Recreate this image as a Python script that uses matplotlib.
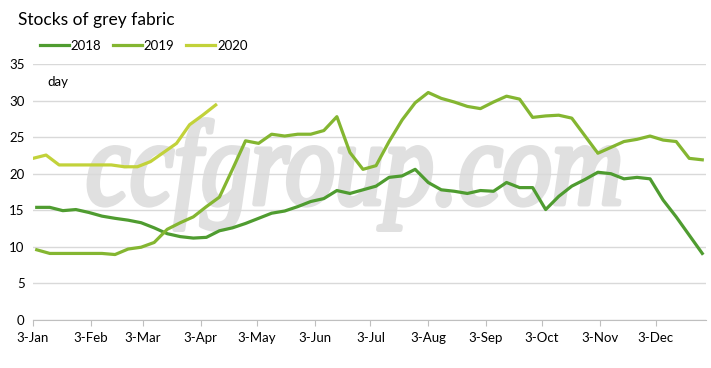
import pandas as pd
import numpy as np
import matplotlib.pyplot as plt
from matplotlib.textpath import TextPath
from matplotlib.patches import PathPatch
from matplotlib.font_manager import FontProperties
from matplotlib.transforms import Affine2D

# weekly stocks of grey fabric, days
dates = pd.date_range('2018-01-05', periods=52, freq='7D')
dates_2020 = pd.date_range('2018-01-03', periods=15, freq='7D')

s2018 = [15.4, 15.4, 14.95, 15.1, 14.7, 14.2, 13.9, 13.65, 13.3, 12.6,
         11.8, 11.4, 11.2, 11.3, 12.2, 12.6, 13.2, 13.9, 14.6, 14.9,
         15.5, 16.2, 16.6, 17.7, 17.3, 17.8, 18.3, 19.5, 19.7, 20.6,
         18.8, 17.8, 17.6, 17.3, 17.7, 17.6, 18.8, 18.1, 18.1, 15.1,
         16.9, 18.3, 19.2, 20.2, 20.0, 19.3, 19.5, 19.3, 16.4, 14.1,
         11.6, 9.1]
s2019 = [9.6, 9.1, 9.1, 9.1, 9.1, 9.1, 8.95, 9.7, 9.95, 10.6,
         12.4, 13.3, 14.1, 15.5, 16.8, 20.6, 24.5, 24.15, 25.4, 25.15,
         25.4, 25.4, 25.9, 27.8, 22.9, 20.6, 21.1, 24.4, 27.35, 29.7,
         31.1, 30.3, 29.8, 29.2, 28.9, 29.8, 30.6, 30.2, 27.7, 27.9,
         28.0, 27.6, 25.2, 22.8, 23.6, 24.4, 24.7, 25.15, 24.6, 24.4,
         22.1, 21.9]
s2020 = [22.1, 22.55, 21.2, 21.2, 21.2, 21.2, 21.2, 20.95, 20.95, 21.65,
         22.9, 24.15, 26.7, 28.0, 29.4]

tick_dates = pd.date_range('2018-01-01', periods=12, freq='MS') + pd.Timedelta(days=2)
tick_labels = ['3-Jan', '3-Feb', '3-Mar', '3-Apr', '3-May', '3-Jun',
               '3-Jul', '3-Aug', '3-Sep', '3-Oct', '3-Nov', '3-Dec']

plt.rcParams['font.family'] = ['Lato', 'DejaVu Sans']

fig = plt.figure(figsize=(7.11, 3.68), dpi=100)
ax = fig.add_axes([33/711, 48/368, 673/711, 256/368])
ax.patch.set_alpha(0)

# watermark, fitted to its box in pixels
tp = TextPath((0, 0), 'ccfgroup.com', size=1,
              prop=FontProperties(family='Liberation Serif', style='italic'))
bb = tp.get_extents()
sx = 530 / bb.width
sy = 120
wm = PathPatch(tp, facecolor='#e0e0e0', edgecolor='#e0e0e0', lw=3.5, zorder=0,
               joinstyle='round',
               transform=Affine2D().scale(sx, sy).translate(89 - bb.x0 * sx, 368 - 204))
fig.add_artist(wm)

ax.plot(dates, s2018, color='#4f9c30', lw=2.3, label='2018', solid_joinstyle='round')
ax.plot(dates, s2019, color='#84b631', lw=2.3, label='2019', solid_joinstyle='round')
ax.plot(dates_2020, s2020, color='#c2d23a', lw=2.3, label='2020', solid_joinstyle='round')

ax.set_ylim(0, 35)
ax.set_yticks(range(0, 36, 5))
ax.set_xlim(pd.Timestamp('2018-01-03'), pd.Timestamp('2018-12-30'))
ax.set_xticks(tick_dates)
ax.set_xticklabels(tick_labels)
ax.grid(axis='y', color='#d9d9d9', lw=1)
ax.set_axisbelow(True)
for s in ['top', 'right', 'left']:
    ax.spines[s].set_visible(False)
ax.spines['bottom'].set_color('#bfbfbf')
ax.tick_params(axis='y', length=0, pad=6, labelsize=9.5, colors='#000000')
ax.tick_params(axis='x', length=4, color='#bfbfbf', pad=5, labelsize=9.5)

ax.text(0.021, 0.915, 'day', transform=ax.transAxes, fontsize=9.5)

fig.text(18/711, 1 - 20/368, 'Stocks of grey fabric', fontsize=12.5, va='center')
leg = fig.legend(loc='center left', bbox_to_anchor=(40/711, 1 - 46/368),
                 bbox_transform=fig.transFigure, ncol=3, frameon=False,
                 fontsize=9.5, handlelength=2.2, handletextpad=0.12, columnspacing=0.9,
                 borderaxespad=0, borderpad=0)

# nudge the legend so its first handle starts at x=40px
fig.canvas.draw()
x0 = leg.get_window_extent().x0
leg.set_bbox_to_anchor(((80 - x0) / 711, 1 - 46/368), transform=fig.transFigure)

fig.savefig('out.png', dpi=100)
